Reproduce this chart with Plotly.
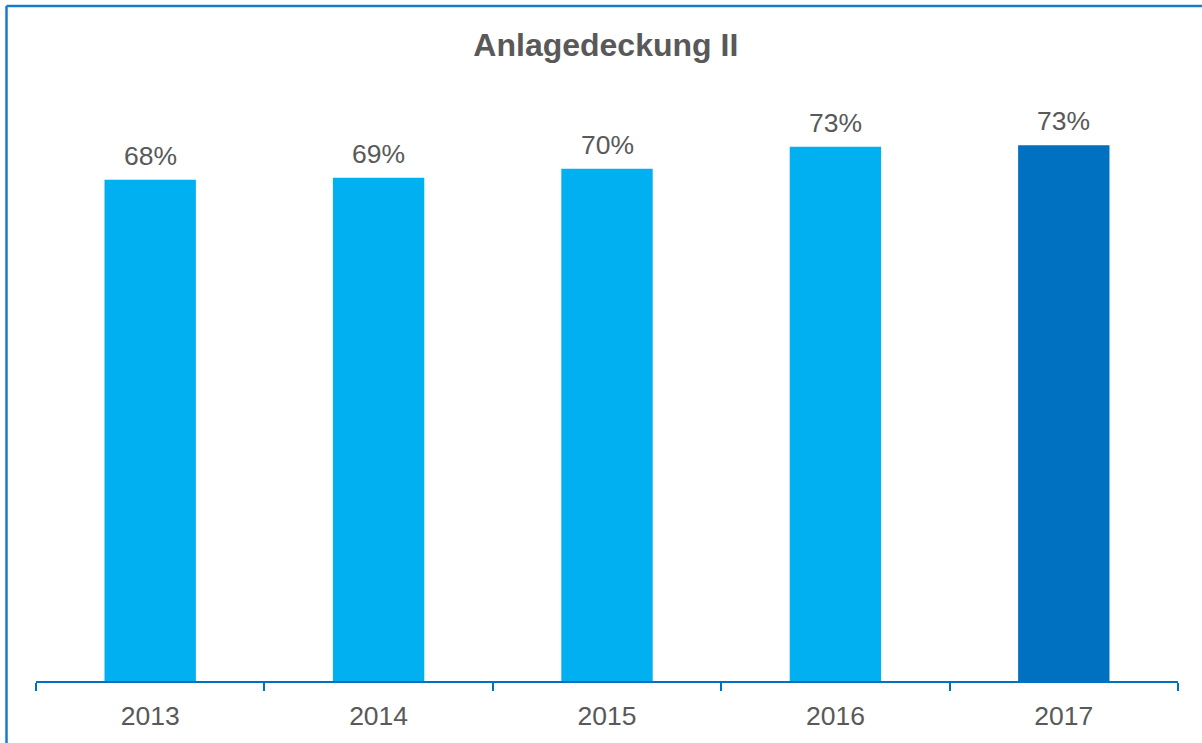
import plotly.graph_objects as go

years = ["2013", "2014", "2015", "2016", "2017"]
values = [68.3, 68.6, 69.8, 72.8, 73.0]
bar_colors = ["#00B0F0", "#00B0F0", "#00B0F0", "#00B0F0", "#0070C0"]

FONT = "Liberation Sans, Arial, sans-serif"
GRAY = "#595959"
BLUE = "#0070C0"

fig = go.Figure()
fig.add_trace(go.Bar(
    x=years, y=values,
    marker=dict(color=bar_colors, line=dict(width=0)),
    hoverinfo="x+y",
))

for i, v in enumerate(values):
    fig.add_annotation(
        x=i, y=v, text=f"{v:.0f}%", showarrow=False,
        yanchor="middle", yshift=24,
        font=dict(family=FONT, size=26.5, color=GRAY),
    )

L, R, T, B = 36, 24, 94, 59
W, H = 1202, 743
pw = W - L - R
ph = H - T - B

# frame lines (top and left), positioned relative to the plot area
fig.add_shape(type="line", xref="paper", yref="paper",
              x0=(6.5 - L) / pw, x1=(W + 5 - L) / pw,
              y0=(H - B - 5.5) / ph, y1=(H - B - 5.5) / ph,
              line=dict(color="#1A7BC9", width=2.5))
fig.add_shape(type="line", xref="paper", yref="paper",
              x0=(6.5 - L) / pw, x1=(6.5 - L) / pw,
              y0=(H - B - 5.5) / ph, y1=(H - B - H - 5) / ph,
              line=dict(color="#1A7BC9", width=2.5))

fig.update_layout(
    width=W, height=H,
    margin=dict(l=L, r=R, t=T, b=B),
    paper_bgcolor="white", plot_bgcolor="white",
    bargap=0.6,
    showlegend=False,
    title=dict(text="<b>Anlagedeckung II</b>", x=0.504, xanchor="center",
               y=1 - 45 / H, yanchor="middle", yref="container",
               font=dict(family=FONT, size=32, color=GRAY)),
    xaxis=dict(type="category", range=[-0.5, 4.5],
               showline=True, linecolor=BLUE, linewidth=2,
               ticks="outside", tickson="boundaries", ticklen=8,
               tickcolor=BLUE, tickwidth=2,
               tickfont=dict(family=FONT, size=26.5, color=GRAY),
               ticklabelstandoff=10,
               showgrid=False, zeroline=False, fixedrange=True),
    yaxis=dict(range=[0, 80], visible=False, showgrid=False,
               zeroline=False, fixedrange=True),
)

fig.write_html("out.html",
               config={"displayModeBar": False},
               post_script="document.body.style.margin='0';"
                           "document.body.style.overflow='hidden';")
